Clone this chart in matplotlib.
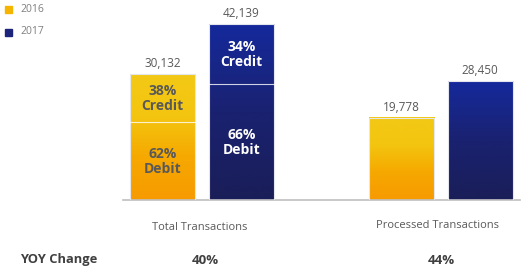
import numpy as np
import matplotlib
matplotlib.use("Agg")
import matplotlib.pyplot as plt
from matplotlib.patches import Rectangle
from matplotlib.colors import LinearSegmentedColormap

# ---- data ----
categories = ["Total Transactions", "Processed Transactions"]
years = ["2016", "2017"]
values_2016 = [30132, 19778]
values_2017 = [42139, 28450]
credit_share_2016 = [38, None]
credit_share_2017 = [34, None]
yoy_change = ["40%", "44%"]

plt.rcParams['font.family'] = ['Open Sans', 'DejaVu Sans']

W, H = 523, 272
fig = plt.figure(figsize=(W / 100, H / 100), dpi=100)
fig.patch.set_facecolor("white")

ax_left, ax_right, ax_bottom, ax_top = 123, 520, 200, 10
ax = fig.add_axes([ax_left / W, (H - ax_bottom) / H,
                   (ax_right - ax_left) / W, (ax_bottom - ax_top) / H])

yellow_cmap = LinearSegmentedColormap.from_list("y", ["#F79A00", "#F6A800", "#F3C510", "#F3C915"])
navy_cmap = LinearSegmentedColormap.from_list("n", ["#1A1E58", "#1A2270", "#15299C"])

x = np.arange(len(categories))
offset = 0.1656
width = 0.2725
ymax = 190 * 240

grad = np.linspace(0, 1, 256).reshape(-1, 1)

def grad_bar(xc, h, cmap):
    x0, x1 = xc - width / 2, xc + width / 2
    ax.imshow(grad, extent=[x0, x1, 0, h], origin="lower", cmap=cmap,
              aspect="auto", zorder=2, interpolation="bicubic")
    ax.add_patch(Rectangle((x0, 0), width, h, fill=False,
                           edgecolor="#E4E6EE", linewidth=0.8, zorder=3))

label_color = "#595959"
for i in range(len(categories)):
    for vals, shares, cmap, dx, txtc in [
        (values_2016, credit_share_2016, yellow_cmap, -offset, label_color),
        (values_2017, credit_share_2017, navy_cmap, offset, "white"),
    ]:
        xc = x[i] + dx
        v = vals[i]
        grad_bar(xc, v, cmap)
        ax.text(xc, v + 240 * 4, f"{v:,}", ha="center", va="bottom",
                fontsize=8.5, color=label_color)
        s = shares[i]
        if s is not None:
            debit_h = v * (100 - s) / 100
            ax.plot([xc - width / 2, xc + width / 2], [debit_h, debit_h],
                    color="white", lw=0.8, alpha=0.8, zorder=4)
            ax.text(xc, (debit_h + v) / 2, f"{s}%\nCredit", ha="center",
                    va="center", fontsize=10, fontweight="bold", color=txtc,
                    linespacing=1.1, zorder=5)
            ax.text(xc, debit_h / 2, f"{100 - s}%\nDebit", ha="center",
                    va="center", fontsize=10, fontweight="bold", color=txtc,
                    linespacing=1.1, zorder=5)

ax.set_xlim(-0.331, 1.333)
ax.set_ylim(0, ymax)
for sp in ["top", "right", "left"]:
    ax.spines[sp].set_visible(False)
ax.spines["bottom"].set_color("#BFBFBF")
ax.spines["bottom"].set_linewidth(1.2)
ax.set_xticks([])
ax.set_yticks([])

# category labels
fig.text(200 / W, 1 - 228 / H, categories[0], ha="center", va="center",
         fontsize=8, color=label_color)
fig.text(438 / W, 1 - 225 / H, categories[1], ha="center", va="center",
         fontsize=8, color=label_color)

# YOY row
fig.text(20 / W, 1 - 260 / H, "YOY Change", ha="left", va="center",
         fontsize=9.3, fontweight="bold", color="#404040")
fig.text(205 / W, 1 - 260 / H, yoy_change[0], ha="center", va="center",
         fontsize=9.5, fontweight="bold", color="#404040")
fig.text(441 / W, 1 - 260 / H, yoy_change[1], ha="center", va="center",
         fontsize=9.5, fontweight="bold", color="#404040")

# legend
for yy, lab, col in [(9, years[0], "#F5B400"), (32, years[1], "#1B237A")]:
    fig.add_artist(Rectangle((5 / W, 1 - (yy + 4) / H), 7 / W, 7 / H,
                             transform=fig.transFigure, color=col))
    fig.text(20 / W, 1 - yy / H, lab, ha="left", va="center",
             fontsize=7.5, color="#7F7F7F")

fig.savefig("out.png", dpi=100)
